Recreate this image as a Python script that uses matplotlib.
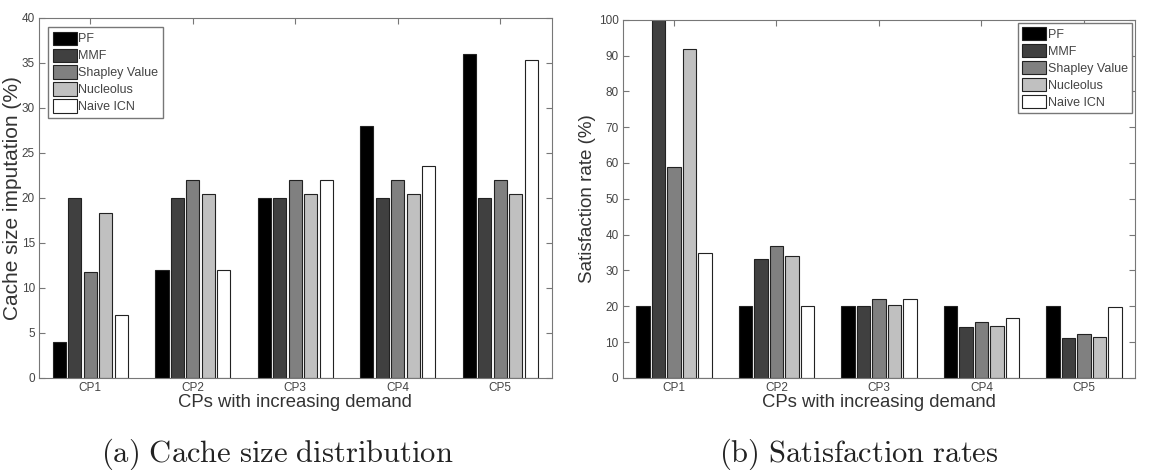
import matplotlib.pyplot as plt
import numpy as np

# data
cps = ["CP1", "CP2", "CP3", "CP4", "CP5"]
schemes = ["PF", "MMF", "Shapley Value", "Nucleolus", "Naive ICN"]

cache_pf = [4, 12, 20, 28, 36]
cache_mmf = [20, 20, 20, 20, 20]
cache_shapley = [11.8, 22, 22, 22, 22]
cache_nucleolus = [18.3, 20.4, 20.4, 20.4, 20.4]
cache_naive = [7, 12, 22, 23.5, 35.3]

sat_pf = [20, 20, 20, 20, 20]
sat_mmf = [100, 33.3, 20, 14.3, 11.1]
sat_shapley = [59, 36.7, 22, 15.7, 12.2]
sat_nucleolus = [91.7, 34.1, 20.4, 14.6, 11.4]
sat_naive = [35, 20, 22, 16.8, 19.8]

colors = ["#000000", "#404040", "#808080", "#c0c0c0", "#ffffff"]
axis_gray = "#777777"

plt.rcParams["font.family"] = ["Liberation Sans", "DejaVu Sans"]
plt.rcParams["mathtext.fontset"] = "cm"

fig = plt.figure(figsize=(11.49, 4.7), dpi=100)
ax1 = fig.add_axes([0.034, 0.196, 0.446, 0.766])
ax2 = fig.add_axes([0.542, 0.196, 0.446, 0.762])

x = np.arange(1, len(cps) + 1)
width = 0.13
step = 0.151


def draw(ax, series, ymax, yticks, ylabel, ylsize, ylpad, loc, pad):
    for i, (vals, c) in enumerate(zip(series, colors)):
        ax.bar(x + (i - 2) * step, vals, width, color=c, edgecolor="#222222",
               linewidth=0.8, label=schemes[i], zorder=2)
    ax.set_xlim(0.5, 5.5)
    ax.set_ylim(0, ymax)
    ax.set_xticks(x)
    ax.set_xticklabels(cps)
    ax.set_yticks(yticks)
    ax.tick_params(direction="in", top=True, right=True, length=4,
                   colors=axis_gray, labelcolor="#444444", labelsize=8.5, pad=3)
    for s in ax.spines.values():
        s.set_color(axis_gray)
    ax.set_xlabel("CPs with increasing demand", fontsize=13.3, color="#333333",
                  labelpad=0)
    ax.set_ylabel(ylabel, fontsize=ylsize, color="#333333", labelpad=ylpad)
    leg = ax.legend(loc=loc, fontsize=9, handlelength=1.9, handleheight=1.25,
                    handletextpad=0.15, labelspacing=0.25, borderpad=0.35,
                    fancybox=False, framealpha=1, borderaxespad=pad)
    leg.get_frame().set_edgecolor(axis_gray)
    for t in leg.get_texts():
        t.set_color("#444444")


draw(ax1, [cache_pf, cache_mmf, cache_shapley, cache_nucleolus, cache_naive],
     40, range(0, 41, 5), "Cache size imputation (%)", 15, 0, "upper left", 0.75)
draw(ax2, [sat_pf, sat_mmf, sat_shapley, sat_nucleolus, sat_naive],
     100, range(0, 101, 10), "Satisfaction rate (%)", 13.5, 2, "upper right", 0.25)

fig.text(0.241, 0.017, r"$\mathrm{(a)\ Cache\ size\ distribution}$",
         ha="center", va="baseline", fontsize=22, color="#222222")
fig.text(0.747, 0.017, r"$\mathrm{(b)\ Satisfaction\ rates}$",
         ha="center", va="baseline", fontsize=22, color="#222222")

plt.savefig("out.png", dpi=100)
